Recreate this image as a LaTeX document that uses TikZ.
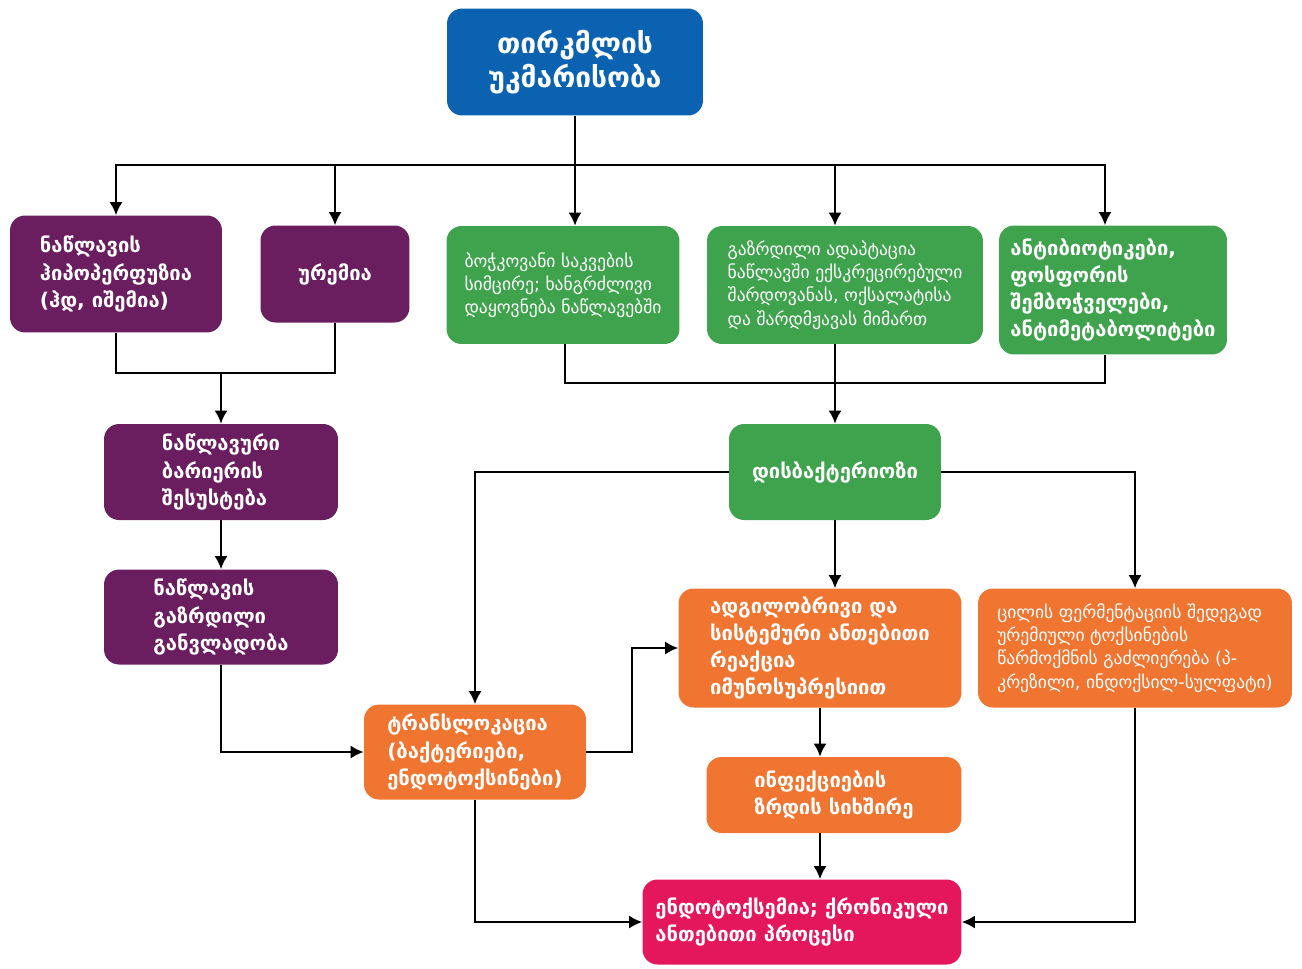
\documentclass[tikz,border=0pt]{standalone}
\usepackage{fontspec}
\setmainfont{DejaVu Sans}
\usepackage{tikz}
\usetikzlibrary{arrows.meta}
\definecolor{ckdblue}{HTML}{0B62B0}
\definecolor{gutpurple}{HTML}{6A1E5F}
\definecolor{floragreen}{HTML}{3FA34D}
\definecolor{inflorange}{HTML}{EF7531}
\definecolor{endopink}{HTML}{E5175C}
\tikzset{
  >={Latex[length=2.6mm,width=2.6mm]},
  line/.style={draw=black, -{Latex[length=2.6mm,width=2.6mm]}, line width=1.1pt},
  plain/.style={draw=black, line width=1.1pt},
  box/.style={
    rounded corners=3mm,
    align=left,
    text=white,
    inner sep=2pt
  },
  bigtext/.style={font=\bfseries\fontsize{11.5}{15.5}\selectfont},
  smalltext/.style={font=\fontsize{10}{13.2}\selectfont}
}

\begin{document}
\begin{tikzpicture}[x=0.02cm,y=-0.02cm]
  \path[use as bounding box] (0,0) rectangle (1302,968);

  \node[box, fill=ckdblue, align=center, font=\bfseries\fontsize{16}{19.5}\selectfont,
    minimum width=5.12cm, minimum height=2.14cm] (ckd) at (575,62)
    {თირკმლის\\უკმარისობა};

  \node[box, bigtext, fill=gutpurple, minimum width=4.24cm, minimum height=2.34cm] (hypo) at (116,274)
    {ნაწლავის\\ჰიპოპერფუზია\\(ჰდ, იშემია)};
  \node[box, bigtext, fill=gutpurple, minimum width=2.98cm, minimum height=1.94cm] (urem) at (335,274)
    {ურემია};
  \node[box, smalltext, fill=floragreen, minimum width=4.66cm, minimum height=2.36cm] (g1) at (563,285)
    {ბოჭკოვანი საკვების\\სიმცირე; ხანგრძლივი\\დაყოვნება ნაწლავებში};
  \node[box, smalltext, fill=floragreen, minimum width=5.52cm, minimum height=2.36cm] (g2) at (845,285)
    {გაზრდილი ადაპტაცია\\ნაწლავში ექსკრეცირებული\\შარდოვანას, ოქსალატისა\\და შარდმჟავას მიმართ};
  \node[box, bigtext, fill=floragreen, minimum width=4.56cm, minimum height=2.58cm] (g3) at (1113,290)
    {ანტიბიოტიკები,\\ფოსფორის\\შემბოჭველები,\\ანტიმეტაბოლიტები};

  \node[box, bigtext, fill=gutpurple, minimum width=4.68cm, minimum height=1.92cm] (barrier) at (221,472)
    {ნაწლავური\\ბარიერის\\შესუსტება};
  \node[box, bigtext, fill=gutpurple, minimum width=4.68cm, minimum height=1.9cm] (perm) at (221,617)
    {ნაწლავის\\გაზრდილი\\განვლადობა};
  \node[box, bigtext, fill=floragreen, minimum width=4.24cm, minimum height=1.92cm] (dysb) at (835,472)
    {დისბაქტერიოზი};

  \node[box, bigtext, fill=inflorange, minimum width=5.66cm, minimum height=2.38cm] (local) at (820,648)
    {ადგილობრივი და\\სისტემური ანთებითი\\რეაქცია\\იმუნოსუპრესიით};
  \node[box, smalltext, fill=inflorange, minimum width=6.28cm, minimum height=2.38cm] (toxin) at (1135,648)
    {ცილის ფერმენტაციის შედეგად\\ურემიული ტოქსინების\\წარმოქმნის გაძლიერება (პ-\\კრეზილი, ინდოქსილ-სულფატი)};
  \node[box, bigtext, fill=inflorange, minimum width=4.44cm, minimum height=1.9cm] (transl) at (475,752)
    {ტრანსლოკაცია\\(ბაქტერიები,\\ენდოტოქსინები)};
  \node[box, bigtext, fill=inflorange, minimum width=5.1cm, minimum height=1.52cm] (infect) at (834,795)
    {ინფექციების\\ზრდის სიხშირე};
  \node[box, bigtext, fill=endopink, minimum width=6.38cm, minimum height=1.7cm] (endo) at (802,922)
    {ენდოტოქსემია; ქრონიკული\\ანთებითი პროცესი};

  % top bus
  \coordinate (bus) at (575,165);
  \draw[plain] (ckd) -- (bus);
  \draw[line] (bus) -| (hypo.north);
  \draw[line] (bus) -| (urem.north);
  \draw[line] (bus) -- (ckd.south |- g1.north);
  \draw[line] (bus) -| ([xshift=-0.2cm]g2.north);
  \draw[line] (bus) -| ([xshift=-0.16cm]g3.north);

  % merges
  \coordinate (join1) at (221,373);
  \draw[plain] (hypo.south) |- (join1) -| (urem.south);
  \draw[line] (join1) -- (barrier);
  \coordinate (join2) at (835,383);
  \draw[plain] ([xshift=0.04cm]g1.south) |- (join2) -| ([xshift=-0.16cm]g3.south);
  \draw[line] (dysb.north |- g2.south) -- (dysb.north);

  \draw[line] (barrier) -- (perm);
  \draw[line] (perm.south) |- (transl.west);
  \draw[line] (dysb.west) -| (transl.north);
  \draw[line] (dysb.east) -| (toxin.north);
  \draw[line] (dysb.south) -- (dysb.south |- local.north);
  \draw[line] (transl.east) -- ++(46,0) |- (local.west);
  \draw[line] (local.south) -- (local.south |- infect.north);
  \draw[line] (local.south |- infect.south) -- (local.south |- endo.north);
  \draw[line] (transl.south) |- (endo.west);
  \draw[line] (toxin.south) |- (endo.east);
\end{tikzpicture}
\end{document}
